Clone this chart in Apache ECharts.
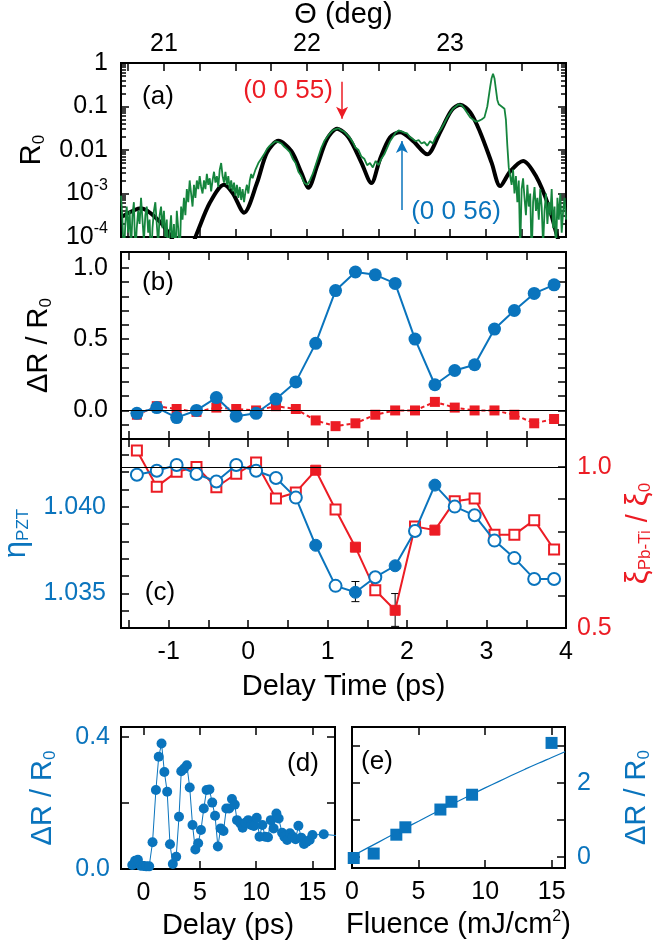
<!DOCTYPE html>
<html>
<head>
<meta charset="utf-8">
<script src="https://cdn.jsdelivr.net/npm/echarts@6/dist/echarts.min.js"></script>
<style>
  html, body { margin: 0; padding: 0; background: #fff; }
  #chart { width: 671px; height: 945px; }
</style>
</head>
<body>
<div id="chart"></div>
<script>
// ---------- panel (a): reflectivity scans, [theta (deg), log10 R0] ----------
const simScanLog = [
  [20.71,-3.53],[20.84,-3.34],[20.96,-3.61],[21.05,-4.0],[21.14,-4.6],[21.23,-3.92],
  [21.32,-3.22],[21.42,-2.80],[21.48,-2.99],[21.56,-3.44],[21.65,-2.76],[21.72,-2.06],
  [21.80,-1.79],[21.89,-2.02],[21.96,-2.52],[22.01,-2.87],[22.07,-2.37],[22.14,-1.75],
  [22.21,-1.51],[22.29,-1.71],[22.38,-2.29],[22.45,-2.76],[22.51,-2.21],[22.58,-1.71],
  [22.65,-1.59],[22.74,-1.79],[22.84,-2.10],[22.93,-1.59],[23.01,-1.09],[23.07,-0.96],
  [23.14,-1.13],[23.21,-1.59],[23.29,-2.29],[23.35,-2.83],[23.42,-2.49],[23.51,-2.25],
  [23.60,-2.60],[23.69,-3.30],[23.75,-4.0],[23.81,-4.6]
];
const expScanLog = [
  [20.70,-3.05],[20.71,-3.6],[20.72,-4.5],[20.73,-3.7],[20.74,-3.3],[20.75,-3.9],[20.76,-3.4],
  [20.77,-4.3],[20.78,-3.5],[20.79,-3.2],[20.80,-4.4],[20.81,-3.8],[20.82,-3.4],[20.83,-3.7],
  [20.84,-3.1],[20.85,-3.6],[20.86,-4.1],[20.87,-3.5],[20.88,-3.3],[20.89,-3.9],[20.90,-3.6],
  [20.91,-4.6],[20.92,-3.8],[20.93,-3.4],[20.94,-3.2],[20.95,-3.7],[20.96,-4.2],[20.97,-3.5],
  [20.98,-3.3],[20.99,-3.8],[21.00,-3.4],[21.01,-4.0],[21.02,-3.6],[21.03,-4.7],[21.04,-3.9],
  [21.05,-3.5],[21.06,-4.3],[21.07,-3.7],[21.08,-4.5],[21.09,-3.4],[21.10,-3.8],[21.11,-4.6],
  [21.12,-3.3],[21.13,-3.6],[21.14,-3.1],[21.15,-3.5],[21.16,-2.9],[21.17,-3.2],[21.18,-2.7],
  [21.19,-3.0],[21.20,-3.3],[21.21,-2.8],[21.22,-3.1],[21.23,-2.7],[21.24,-2.9],[21.25,-2.6],
  [21.26,-2.85],[21.27,-3.0],[21.28,-2.7],[21.29,-2.9],[21.30,-2.55],[21.31,-2.8],[21.32,-2.65],
  [21.33,-2.95],[21.34,-2.7],[21.35,-2.5],[21.36,-2.75],[21.37,-2.6],[21.38,-2.85],[21.39,-2.45],
  [21.40,-2.3],[21.41,-2.6],[21.42,-2.75],[21.43,-2.5],[21.44,-2.8],[21.45,-2.6],[21.46,-2.9],
  [21.47,-2.7],[21.48,-2.95],[21.49,-2.75],[21.50,-3.05],[21.51,-2.8],[21.52,-3.1],[21.53,-2.85],
  [21.54,-3.15],[21.55,-2.9],[21.56,-3.2],[21.57,-2.95],[21.58,-2.8],[21.59,-3.0],[21.60,-2.7],
  [21.61,-2.55],[21.62,-2.65],[21.64,-2.45],[21.66,-2.3],[21.68,-2.2],[21.70,-2.1],[21.72,-1.98],
  [21.74,-1.9],[21.76,-1.85],[21.78,-1.8],[21.80,-1.82],[21.82,-1.85],[21.84,-1.92],[21.86,-1.98],
  [21.88,-2.05],[21.90,-2.2],[21.92,-2.3],[21.94,-2.5],[21.96,-2.6],[21.98,-2.75],[22.00,-2.8],
  [22.02,-2.7],[22.04,-2.55],[22.06,-2.35],[22.08,-2.15],[22.10,-1.95],[22.12,-1.8],[22.14,-1.7],
  [22.16,-1.62],[22.18,-1.55],[22.20,-1.52],[22.22,-1.5],[22.24,-1.55],[22.26,-1.58],[22.28,-1.65],
  [22.30,-1.72],[22.32,-1.82],[22.34,-1.95],[22.36,-2.0],[22.38,-2.15],[22.40,-2.2],[22.42,-2.35],
  [22.44,-2.3],[22.46,-2.4],[22.48,-2.25],[22.50,-2.35],[22.52,-2.2],[22.54,-2.1],[22.56,-1.95],
  [22.58,-1.8],[22.60,-1.7],[22.62,-1.6],[22.64,-1.55],[22.66,-1.57],[22.68,-1.6],[22.70,-1.62],
  [22.72,-1.7],[22.74,-1.75],[22.76,-1.8],[22.78,-1.77],[22.80,-1.85],[22.82,-1.82],[22.84,-1.9],
  [22.86,-1.8],[22.88,-1.85],[22.90,-1.7],[22.92,-1.6],[22.94,-1.5],[22.96,-1.38],[22.98,-1.25],
  [23.00,-1.15],[23.02,-1.05],[23.04,-1.0],[23.06,-0.95],[23.08,-0.97],[23.10,-1.05],[23.12,-1.15],
  [23.14,-1.25],[23.16,-1.3],[23.18,-1.35],[23.20,-1.33],[23.22,-1.3],[23.24,-1.25],[23.26,-1.0],
  [23.28,-0.55],[23.29,-0.35],[23.30,-0.25],[23.31,-0.35],[23.32,-0.6],[23.33,-0.85],[23.34,-0.95],
  [23.36,-1.0],[23.38,-1.05],[23.39,-1.3],[23.40,-1.9],[23.41,-2.4],[23.42,-2.6],[23.43,-2.8],
  [23.44,-2.45],[23.45,-3.0],[23.46,-2.6],[23.47,-3.2],[23.48,-2.7],[23.49,-4.3],[23.50,-2.9],
  [23.51,-2.65],[23.52,-3.1],[23.53,-3.5],[23.54,-2.8],[23.55,-3.3],[23.56,-3.0],[23.57,-4.5],
  [23.58,-3.2],[23.59,-2.85],[23.60,-3.4],[23.61,-3.1],[23.62,-3.6],[23.63,-2.9],[23.64,-3.3],
  [23.65,-4.2],[23.66,-3.4],[23.67,-3.0],[23.68,-3.7],[23.69,-3.2],[23.70,-3.5],[23.71,-2.9],
  [23.72,-3.8],[23.73,-3.3],[23.74,-4.4],[23.75,-3.1],[23.76,-3.6],[23.77,-3.0],[23.78,-3.9],
  [23.79,-3.4],[23.80,-3.1],[23.81,-3.6]
];
// Bragg-peak markers: [theta, arrow start R0, arrow end R0]
const mark0055 = [22.245, 0.37, 0.052];
const mark0056 = [22.663, 4.2e-4, 0.016];

// ---------- panels (b), (c): pump-probe delay scans ----------
const delay = [-1.4,-1.15,-0.9,-0.65,-0.4,-0.15,0.1,0.35,0.6,0.85,1.1,1.35,1.6,1.85,2.1,2.35,2.6,2.85,3.1,3.35,3.6,3.85];
const dR0056 = [-0.02,0.02,-0.05,0.00,0.09,-0.04,-0.02,0.08,0.20,0.47,0.84,0.97,0.95,0.89,0.50,0.18,0.28,0.32,0.57,0.70,0.82,0.88];
const dR0055 = [-0.03,0.03,0.01,-0.01,0.02,0.01,0.00,0.03,0.01,-0.07,-0.11,-0.09,-0.03,0.00,0.00,0.06,0.02,0.00,0.00,-0.03,-0.09,-0.06];
const etaPZT = [1.04184,1.04207,1.04240,1.04188,1.04145,1.04240,1.04207,1.04165,1.04052,1.03777,1.03543,1.03506,1.03593,1.03659,1.03859,1.04124,1.04000,1.03950,1.03804,1.03703,1.03583,1.03583];
const xiPbTi = [1.051,0.939,0.985,1.000,0.937,0.979,1.014,0.902,0.921,0.990,0.868,0.751,0.617,0.555,0.815,0.804,0.894,0.902,0.790,0.790,0.835,0.744];
const fullFitDelays = [0.85,1.35,1.85,2.35];
const etaErr = [[1.35, 1.03452, 1.03568]];
const xiErr = [[1.85, 0.505, 0.607]];

// ---------- panel (d): long delay scan ----------
const dDelay = [-1.0,-0.75,-0.5,-0.25,0,0.25,0.5,0.8,1.1,1.35,1.6,1.85,2.1,2.35,2.6,2.9,3.15,3.35,3.6,3.85,
  4.1,4.35,4.6,4.85,5.1,5.35,5.6,5.85,6.1,6.35,6.6,6.85,7.1,7.35,7.6,7.85,8.1,8.3,8.6,8.8,9.05,9.3,9.55,9.8,
  10.05,10.3,10.55,10.8,11.05,11.3,11.55,11.8,12.0,12.3,12.5,12.75,13.0,13.25,13.5,13.75,14.0,14.25,14.5,14.75,15.0,16.0,17.5];
const dSignal = [0.012,0.025,0.028,0.010,0.009,0.008,0.008,0.081,0.239,0.340,0.380,0.294,0.234,0.075,0.015,0.037,0.158,0.296,0.304,0.314,
  0.247,0.133,0.059,0.078,0.118,0.183,0.239,0.241,0.201,0.161,0.068,0.123,0.115,0.183,0.183,0.212,0.195,0.148,0.138,0.125,0.140,0.148,0.133,0.130,
  0.155,0.098,0.133,0.098,0.096,0.148,0.123,0.168,0.153,0.110,0.098,0.088,0.108,0.098,0.090,0.131,0.095,0.076,0.083,0.088,0.103,0.105,0.100];

// ---------- panel (e): fluence dependence ----------
const fluence = [0.13,1.63,3.33,4.01,6.64,7.47,9.02,14.99];
const eSignal = [-0.03,0.09,0.60,0.80,1.28,1.49,1.68,3.08];
const fitFluence = [0,1,2,3,4,5,6,7,8,9,10,11,12,13,14,15,16];
const fitSignal = [0.02,0.21,0.40,0.59,0.78,0.965,1.15,1.33,1.51,1.69,1.865,2.035,2.205,2.37,2.53,2.685,2.84];

// ---------- tick positions and labels ----------
const thetaLabels = [21, 22, 23];
const thetaTicks = [20.75,21,21.25,21.5,21.75,22,22.25,22.5,22.75,23,23.25,23.5,23.75];
const logLabels = [1e-4, 1e-3, 0.01, 0.1, 1];
const logMinor = [];
for (let e = -4; e < 0; e++) for (let k = 2; k <= 9; k++) logMinor.push(+(k * Math.pow(10, e)).toPrecision(2));
const delayLabels = [-1,0,1,2,3,4];
const delayTicks = [-1.5,-1,-0.5,0,0.5,1,1.5,2,2.5,3,3.5,4];
const bLabels = [0, 0.5, 1.0];
const bTicks = [-0.1,0,0.1,0.2,0.3,0.4,0.5,0.6,0.7,0.8,0.9,1.0];
const etaLabels = [1.035, 1.040];
const etaTicks = [1.034,1.035,1.036,1.037,1.038,1.039,1.040,1.041,1.042,1.043];
const xiLabels = [0.5, 1.0];
const xiTicks = [0.6,0.7,0.8,0.9,1.0];
const dYLabels = [0, 0.4];
const dYTicks = [0, 0.2, 0.4];
const dXLabels = [0,5,10,15];
const eYLabels = [0, 2];
const eYTicks = [0,1,2,3];
const eXLabels = [0,5,10,15];

const FONT = '"Liberation Sans", Arial, sans-serif';
const BLUE = '#0a74bd', RED = '#ec1c24', GREEN = '#15853d';
const TICK_FS = 25, NAME_FS = 29;

const RICH = {
  sub: { fontSize: 17, fontFamily: FONT, padding: [14, 0, 0, 0] },
  sup: { fontSize: 16, fontFamily: FONT, padding: [0, 0, 16, 0] },
  gk: { fontSize: 31, fontFamily: FONT }
};

function axis(o) {
  const a = {
    type: o.type || 'value',
    gridIndex: o.grid,
    position: o.pos,
    min: o.min, max: o.max,
    axisLine: { show: false, onZero: false },
    splitLine: { show: false },
    axisTick: {
      show: true, inside: true, length: o.tickLen || 8,
      customValues: o.ticks,
      lineStyle: { color: '#000', width: 1.5 }
    },
    axisLabel: o.labels ? {
      show: true, customValues: o.labels, formatter: o.fmt,
      color: o.color || '#000', fontSize: TICK_FS, fontFamily: FONT,
      margin: o.margin == null ? 12 : o.margin, rich: RICH
    } : { show: false }
  };
  if (o.type === 'log') a.logBase = 10;
  if (o.name) {
    a.name = o.name;
    a.nameLocation = 'middle';
    a.nameGap = o.nameGap;
    a.nameTextStyle = {
      color: o.nameColor || o.color || '#000', fontSize: NAME_FS, fontFamily: FONT,
      lineHeight: 32, rich: RICH
    };
  }
  return a;
}

const logFmt = v => v >= 0.01 ? String(+v.toPrecision(1)) : '10{sup|' + Math.round(Math.log10(v)) + '}';

const xAxes = [
  axis({ grid: 0, pos: 'top', min: 20.70, max: 23.81, ticks: thetaTicks, labels: thetaLabels,
         fmt: v => String(v), margin: 6, name: 'Θ (deg)', nameGap: 30 }),
  axis({ grid: 0, pos: 'bottom', min: 20.70, max: 23.81, ticks: thetaTicks }),
  axis({ grid: 1, pos: 'bottom', min: -1.6, max: 4, ticks: delayTicks }),
  axis({ grid: 1, pos: 'top', min: -1.6, max: 4, ticks: delayTicks }),
  axis({ grid: 2, pos: 'bottom', min: -1.6, max: 4, ticks: delayTicks, labels: delayLabels,
         fmt: v => String(v), margin: 12, name: 'Delay Time (ps)', nameGap: 43 }),
  axis({ grid: 2, pos: 'top', min: -1.6, max: 4, ticks: delayTicks }),
  axis({ grid: 3, pos: 'bottom', min: -2, max: 17, ticks: dXLabels, labels: dXLabels,
         fmt: v => String(v), margin: 12, name: 'Delay (ps)', nameGap: 41 }),
  axis({ grid: 3, pos: 'top', min: -2, max: 17, ticks: dXLabels }),
  axis({ grid: 4, pos: 'bottom', min: 0, max: 16, ticks: eXLabels, labels: eXLabels,
         fmt: v => String(v), margin: 12, name: 'Fluence (mJ/cm{sup|2})', nameGap: 41 }),
  axis({ grid: 4, pos: 'top', min: 0, max: 16, ticks: eXLabels })
];

const yAxes = [
  axis({ grid: 0, pos: 'left', type: 'log', min: 1e-4, max: 1, ticks: logLabels, labels: logLabels,
         fmt: logFmt, margin: 13, name: 'R{sub|0}', nameGap: 66 }),
  axis({ grid: 0, pos: 'left', type: 'log', min: 1e-4, max: 1, ticks: logMinor, tickLen: 5 }),
  axis({ grid: 0, pos: 'right', type: 'log', min: 1e-4, max: 1, ticks: logLabels }),
  axis({ grid: 0, pos: 'right', type: 'log', min: 1e-4, max: 1, ticks: logMinor, tickLen: 5 }),
  axis({ grid: 1, pos: 'left', min: -0.2, max: 1.11, ticks: bTicks, labels: bLabels,
         fmt: v => v.toFixed(1), margin: 13, name: 'ΔR / R{sub|0}', nameGap: 66 }),
  axis({ grid: 1, pos: 'right', min: -0.2, max: 1.11, ticks: bTicks }),
  axis({ grid: 2, pos: 'left', min: 1.033, max: 1.0439, ticks: etaTicks, labels: etaLabels,
         fmt: v => v.toFixed(3), color: BLUE, margin: 15, name: '{gk|η}{sub|PZT}', nameGap: 72 }),
  axis({ grid: 2, pos: 'right', min: 0.5, max: 1.087, ticks: xiTicks, labels: xiLabels,
         fmt: v => v.toFixed(1), color: RED, margin: 11,
         name: '{gk|ξ}{sub|Pb-Ti} / {gk|ξ}{sub|0}', nameGap: 46 }),
  axis({ grid: 3, pos: 'left', min: 0, max: 0.43, ticks: dYTicks, labels: dYLabels,
         fmt: v => v.toFixed(1), color: BLUE, margin: 11, name: 'ΔR / R{sub|0}', nameGap: 62 }),
  axis({ grid: 3, pos: 'right', min: 0, max: 0.43, ticks: dYTicks }),
  axis({ grid: 4, pos: 'right', min: -0.3, max: 3.51, ticks: eYTicks, labels: eYLabels,
         fmt: v => String(v), color: BLUE, margin: 12, name: 'ΔR / R{sub|0}', nameGap: 56 }),
  axis({ grid: 4, pos: 'left', min: -0.3, max: 3.51, ticks: eYTicks })
];

const toR = p => [p[0], Math.pow(10, p[1])];
const isFull = t => fullFitDelays.some(f => Math.abs(f - t) < 1e-6);
const openOrFilled = (vals, color) => delay.map((t, i) => ({
  value: [t, vals[i]],
  itemStyle: isFull(t)
    ? { color: color, borderColor: color, borderWidth: 1 }
    : { color: '#fff', borderColor: color, borderWidth: 2 }
}));

function errorBarSeries(xIdx, yIdx, data) {
  return {
    type: 'custom', xAxisIndex: xIdx, yAxisIndex: yIdx, data: data, z: 1,
    encode: { x: 0, y: [1, 2] },
    renderItem: function (params, api) {
      const lo = api.coord([api.value(0), api.value(1)]);
      const hi = api.coord([api.value(0), api.value(2)]);
      const cap = 4;
      const st = { stroke: '#000', lineWidth: 1 };
      return {
        type: 'group', children: [
          { type: 'line', shape: { x1: lo[0], y1: lo[1], x2: hi[0], y2: hi[1] }, style: st },
          { type: 'line', shape: { x1: lo[0] - cap, y1: lo[1], x2: lo[0] + cap, y2: lo[1] }, style: st },
          { type: 'line', shape: { x1: hi[0] - cap, y1: hi[1], x2: hi[0] + cap, y2: hi[1] }, style: st }
        ]
      };
    }
  };
}

const refLine = (yVal) => ({
  silent: true, symbol: ['none', 'none'], label: { show: false },
  lineStyle: { color: '#000', width: 1, type: 'solid' },
  emphasis: { disabled: true },
  data: [{ yAxis: yVal }]
});

const arrowPair = (m, color) => [
  { coord: [m[0], m[1]], lineStyle: { color: color }, itemStyle: { color: color } },
  { coord: [m[0], m[2]] }
];

const option = {
  animation: false,
  backgroundColor: '#fff',
  textStyle: { fontFamily: FONT },
  grid: [
    { left: 121, top: 63, width: 445, height: 174 },
    { left: 121, top: 252, width: 445, height: 187 },
    { left: 121, top: 439, width: 445, height: 189 },
    { left: 121, top: 727, width: 214, height: 142 },
    { left: 352, top: 727, width: 213, height: 141 }
  ].map(g => Object.assign(g, { show: true, borderColor: '#000', borderWidth: 2, backgroundColor: 'transparent', containLabel: false, outerBoundsMode: 'none' })),
  xAxis: xAxes,
  yAxis: yAxes,
  series: [
    // (a) simulated reflectivity
    {
      type: 'line', xAxisIndex: 0, yAxisIndex: 0, data: simScanLog.map(toR),
      smooth: 0.3, showSymbol: false, z: 2,
      lineStyle: { color: '#000', width: 4 },
      markLine: {
        silent: true, symbol: ['none', 'arrow'], symbolSize: [9, 12],
        label: { show: false }, lineStyle: { width: 1.5, type: 'solid' },
        data: [arrowPair(mark0055, RED), arrowPair(mark0056, BLUE)]
      }
    },
    // (a) measured reflectivity
    {
      type: 'line', xAxisIndex: 0, yAxisIndex: 0, data: expScanLog.map(toR),
      showSymbol: false, z: 3, lineStyle: { color: GREEN, width: 1.8 }
    },
    // (b) (0 0 55)
    {
      type: 'line', xAxisIndex: 2, yAxisIndex: 4, data: delay.map((t, i) => [t, dR0055[i]]),
      symbol: 'rect', symbolSize: 10, z: 3,
      lineStyle: { color: RED, width: 2, type: [4, 3] }, itemStyle: { color: RED },
      markLine: refLine(0)
    },
    // (b) (0 0 56)
    {
      type: 'line', xAxisIndex: 2, yAxisIndex: 4, data: delay.map((t, i) => [t, dR0056[i]]),
      symbol: 'circle', symbolSize: 13, z: 4,
      lineStyle: { color: BLUE, width: 2 }, itemStyle: { color: BLUE }
    },
    // (c) Pb-Ti displacement ratio
    {
      type: 'line', xAxisIndex: 4, yAxisIndex: 7, data: openOrFilled(xiPbTi, RED),
      symbol: 'rect', symbolSize: 10, z: 3,
      lineStyle: { color: RED, width: 2 },
      markLine: refLine(1.0)
    },
    // (c) tetragonality
    {
      type: 'line', xAxisIndex: 4, yAxisIndex: 6, data: openOrFilled(etaPZT, BLUE),
      symbol: 'circle', symbolSize: 12, z: 4,
      lineStyle: { color: BLUE, width: 2 }
    },
    errorBarSeries(4, 6, etaErr),
    errorBarSeries(4, 7, xiErr),
    // (d) long scan
    {
      type: 'line', xAxisIndex: 6, yAxisIndex: 8, data: dDelay.map((t, i) => [t, dSignal[i]]),
      symbol: 'circle', symbolSize: 10, z: 3,
      lineStyle: { color: BLUE, width: 1 }, itemStyle: { color: BLUE }
    },
    // (e) saturation fit
    {
      type: 'line', xAxisIndex: 8, yAxisIndex: 10, data: fitFluence.map((f, i) => [f, fitSignal[i]]),
      smooth: true, showSymbol: false, z: 2, lineStyle: { color: BLUE, width: 1.2 }
    },
    // (e) measured points
    {
      type: 'scatter', xAxisIndex: 8, yAxisIndex: 10, data: fluence.map((f, i) => [f, eSignal[i]]),
      symbol: 'rect', symbolSize: 12, z: 3, itemStyle: { color: BLUE, opacity: 1 }
    }
  ],
  graphic: [
    { type: 'text', x: 158, y: 97, style: { text: '(a)', font: '26px ' + FONT, fill: '#000', align: 'center', verticalAlign: 'middle' } },
    { type: 'text', x: 158, y: 283, style: { text: '(b)', font: '26px ' + FONT, fill: '#000', align: 'center', verticalAlign: 'middle' } },
    { type: 'text', x: 160, y: 593, style: { text: '(c)', font: '26px ' + FONT, fill: '#000', align: 'center', verticalAlign: 'middle' } },
    { type: 'text', x: 303, y: 764, style: { text: '(d)', font: '26px ' + FONT, fill: '#000', align: 'center', verticalAlign: 'middle' } },
    { type: 'text', x: 377, y: 762, style: { text: '(e)', font: '26px ' + FONT, fill: '#000', align: 'center', verticalAlign: 'middle' } },
    { type: 'text', x: 288, y: 91, style: { text: '(0 0 55)', font: '26px ' + FONT, fill: RED, align: 'center', verticalAlign: 'middle' } },
    { type: 'text', x: 456, y: 212, style: { text: '(0 0 56)', font: '26px ' + FONT, fill: BLUE, align: 'center', verticalAlign: 'middle' } }
  ]
};

const chart = echarts.init(document.getElementById('chart'), null, { renderer: 'canvas', width: 671, height: 945 });
chart.setOption(option);
</script>
</body>
</html>
